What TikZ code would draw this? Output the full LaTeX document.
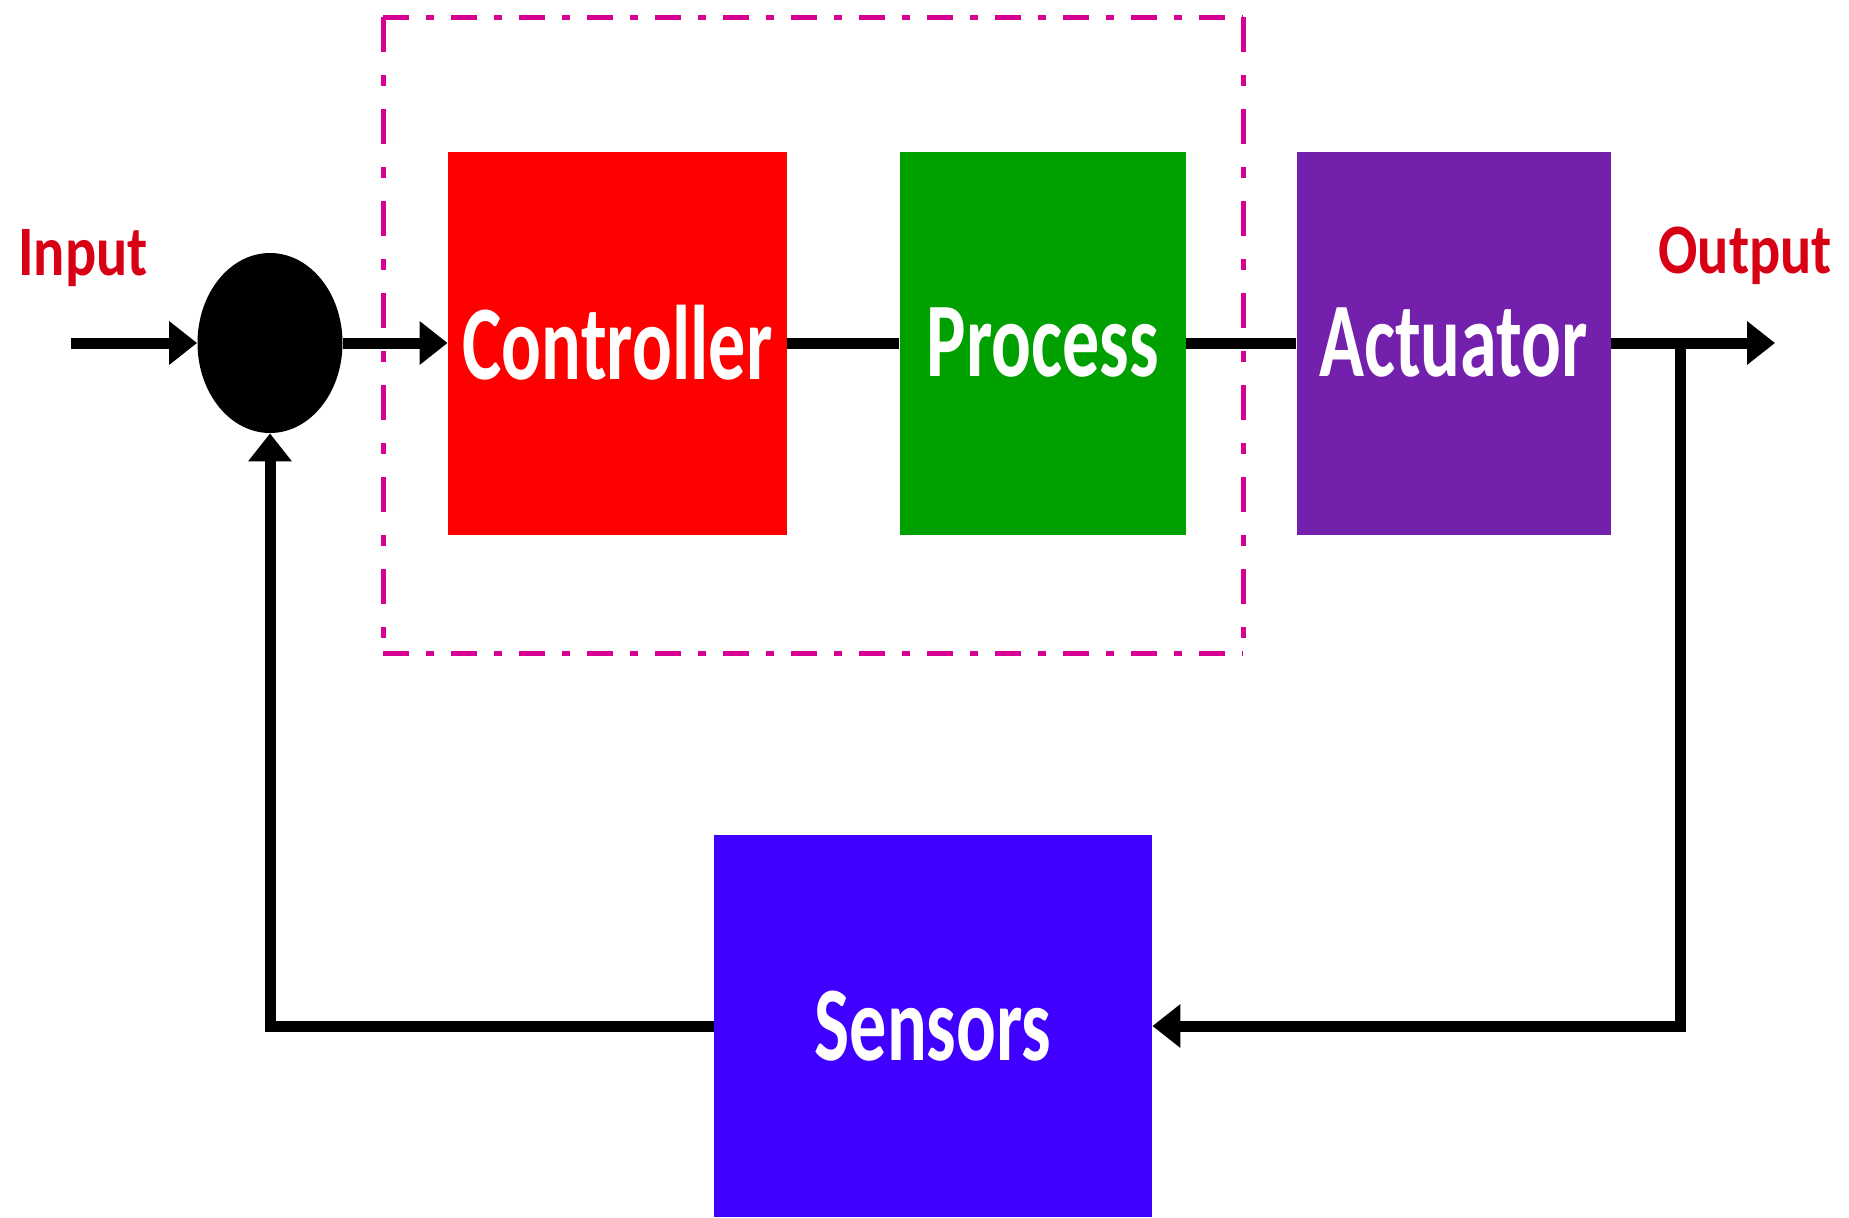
\documentclass[tikz,border=0pt]{standalone}
\usepackage{fontspec}
\usepackage{xcolor}
\usepackage{tikz}
\usetikzlibrary{positioning,shapes.geometric,arrows.meta}
\newfontfamily\blockfont[FakeStretch=0.7]{Carlito}
\newfontfamily\signalfont[FakeStretch=0.82]{Carlito}
\definecolor{ctrlred}{RGB}{255,0,0}
\definecolor{procgreen}{RGB}{0,160,0}
\definecolor{actpurple}{RGB}{115,32,172}
\definecolor{sensblue}{RGB}{64,0,255}
\definecolor{signalred}{RGB}{215,0,20}
\definecolor{framepink}{RGB}{214,0,147}
\tikzset{
  color box/.style={
    fill=#1,
    draw=none,
    inner sep=0pt,
    text=white,
    font=\blockfont\bfseries\fontsize{53pt}{53pt}\selectfont,
    minimum height=191.5pt,
  },
  signal/.style={
    text=signalred,
    inner sep=0pt,
    anchor=base west,
    font=\signalfont\bfseries\fontsize{35.5pt}{35.5pt}\selectfont,
  },
  wire/.style={line width=5.5pt},
  flow/.style={wire, -{Triangle[length=14pt,width=21pt]}},
  frame h/.style={framepink, line width=2.5pt,
    dash pattern=on 13pt off 8.5pt on 4pt off 8.5pt},
  frame v/.style={framepink, line width=2.5pt,
    dash pattern=on 17.5pt off 11.5pt on 5.5pt off 11.5pt},
}

\begin{document}
\begin{tikzpicture}[x=0.5pt,y=-0.5pt,node distance=56pt]
    \useasboundingbox (0,0) rectangle (1849,1217);

    % controller + process group
    \draw [frame h] (383,17) -- (1243,17) (383,653) -- (1243,653);
    \draw [frame v] (383,17) -- (383,653) (1243,17) -- (1243,653);

    \node [ellipse, fill=black, inner sep=0pt,
           minimum width=72.5pt, minimum height=90pt] (sum) at (270,343) {};
    \node [color box=ctrlred, minimum width=169.5pt] (ctrl) at (617.5,343) {Controller};
    \node [color box=procgreen, minimum width=143pt, right=of ctrl] (proc) {Process};
    \node [color box=actpurple, minimum width=157pt, right=55pt of proc] (act) {Actuator};
    \node [color box=sensblue, minimum width=219pt, minimum height=191pt] (sens) at (933,1026) {Sensors};

    \node [signal] (inlbl) at (18,275) {Input};
    \node [signal] (outlbl) at (1658,273) {Output};

    \coordinate (in) at (71,343);
    \coordinate (out) at (1775,343);
    \coordinate (tap) at (1680,343);

    \draw [flow] (in) -- (sum);
    \draw [flow] (sum) -- (ctrl);
    \draw [wire] (ctrl) -- (proc);
    \draw [wire] (proc) -- (act);
    \draw [flow] (act) -- (out);
    \draw [flow] (tap) |- (sens);
    \draw [flow] (sens) -| (sum);
\end{tikzpicture}
\end{document}
